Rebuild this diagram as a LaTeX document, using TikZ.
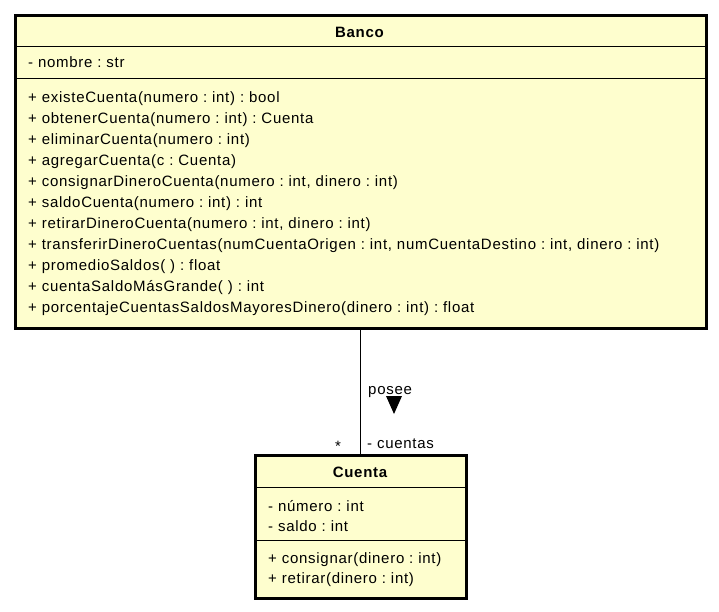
\documentclass[tikz,border=0pt]{standalone}
\usepackage{fontspec}
\setmainfont[LetterSpace=4.8]{Liberation Sans}
\usetikzlibrary{positioning,calc}
\definecolor{classfill}{HTML}{FEFECE}
\frenchspacing

\begin{document}
\begin{tikzpicture}[x=1pt,y=-1pt,font=\fontsize{15}{21}\selectfont]
  \tikzset{classbox/.style={draw=black,line width=2.6pt,fill=classfill,anchor=north west,inner sep=0pt},
    classname/.style={font=\fontsize{15}{21}\selectfont\bfseries,inner sep=0pt},
    member/.style={anchor=mid west,inner sep=0pt},
    sepline/.style={draw=black,line width=0.9pt}}
  \useasboundingbox (0,0) rectangle (719,611);
  % Banco
  \node[classbox,minimum width=691pt,minimum height=313pt] (banco) at (14,14) {};
  \node[classname] (bancoName) at (359.5,32) {Banco};
  \draw[sepline] ($(banco.north west)+(0,32)$) -- ($(banco.north east)+(0,32)$);
  \draw[sepline] ($(banco.north west)+(0,64)$) -- ($(banco.north east)+(0,64)$);
  \node[member] (bancoAttr) at (28,65) {- nombre : str};
  \foreach \m [count=\i] in {{+ existeCuenta(numero : int) : bool},
      {+ obtenerCuenta(numero : int) : Cuenta},
      {+ eliminarCuenta(numero : int)},
      {+ agregarCuenta(c : Cuenta)},
      {+ consignarDineroCuenta(numero : int, dinero : int)},
      {+ saldoCuenta(numero : int) : int},
      {+ retirarDineroCuenta(numero : int, dinero : int)},
      {+ transferirDineroCuentas(numCuentaOrigen : int, numCuentaDestino : int, dinero : int)},
      {+ promedioSaldos( ) : float},
      {+ cuentaSaldoMásGrande( ) : int},
      {+ porcentajeCuentasSaldosMayoresDinero(dinero : int) : float}}
    \node[member] (bancoOp\i) at (28,{99.5+21*(\i-1)}) {\m};
  % Cuenta
  \node[classbox,minimum width=211pt,minimum height=143pt] (cuenta) at (254,454) {};
  \node[classname] (cuentaName) at (360,472) {Cuenta};
  \draw[sepline] ($(cuenta.north west)+(0,33)$) -- ($(cuenta.north east)+(0,33)$);
  \draw[sepline] ($(cuenta.north west)+(0,86)$) -- ($(cuenta.north east)+(0,86)$);
  \node[member] (cuentaAttr1) at (268,508.5) {- número : int};
  \node[member] (cuentaAttr2) at (268,528.5) {- saldo : int};
  \node[member] (cuentaOp1) at (268,560.5) {+ consignar(dinero : int)};
  \node[member] (cuentaOp2) at (268,581) {+ retirar(dinero : int)};
  % association
  \draw[line width=0.9pt] (banco.south) -- (cuenta.north);
  \node[member] (posee) at (368,391.5) {posee};
  \fill (386,396) -- (402,396) -- (394,414) -- cycle;
  \node[inner sep=0pt] (mult) at (338,446) {*};
  \node[member] (role) at (367,445.5) {- cuentas};
\end{tikzpicture}
\end{document}
